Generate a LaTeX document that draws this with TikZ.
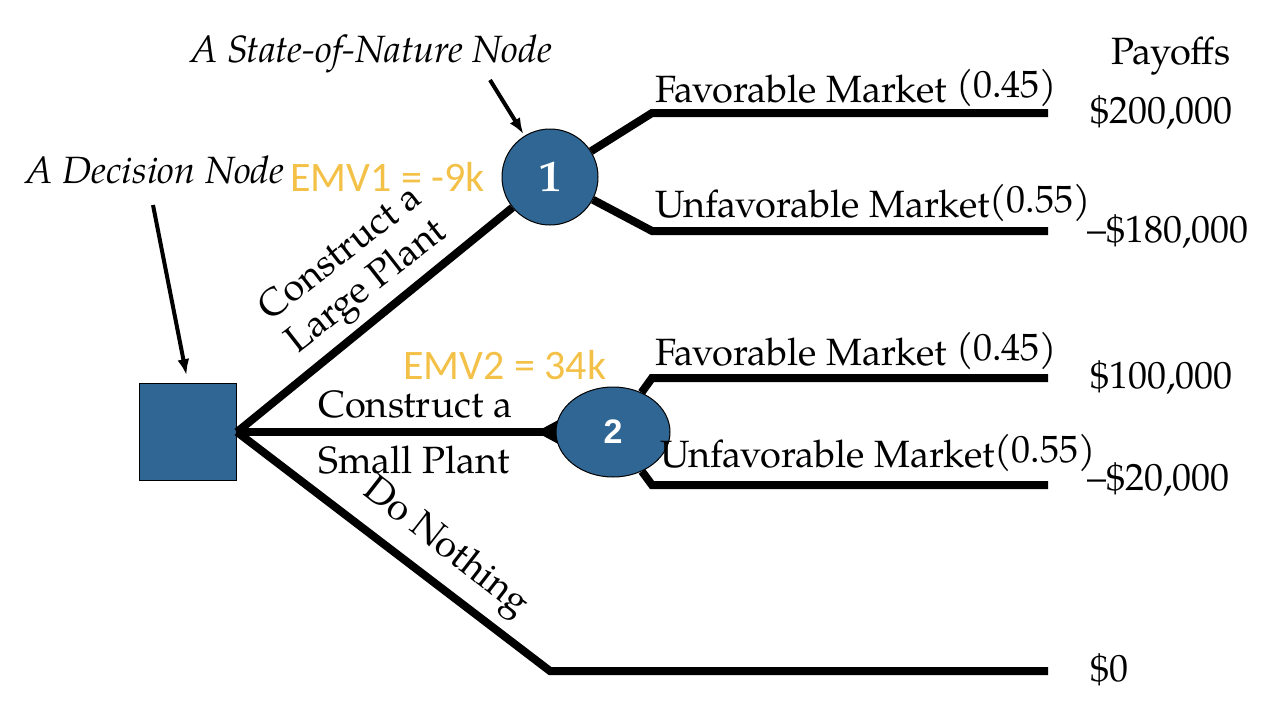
\documentclass[tikz,border=0pt]{standalone}
\usepackage{fontspec}
\setmainfont{TeX Gyre Pagella}
\newfontfamily\emvfont{Carlito}
\newfontfamily\twofont{Liberation Sans}
\usetikzlibrary{shapes.geometric,arrows.meta}
\definecolor{nodeblue}{RGB}{47,102,147}
\definecolor{emvgold}{RGB}{244,193,72}
\tikzset{
  branch/.style={line width=8pt, line join=miter},
  pointer/.style={line width=4pt, -{Latex[length=16pt,width=12pt]}},
  lbl/.style={inner sep=0pt, font=\fontsize{38}{42}\selectfont},
  ilbl/.style={inner sep=0pt, font=\fontsize{38}{42}\selectfont\itshape},
  emv/.style={inner sep=0pt, text=emvgold, font=\fontsize{42}{46}\selectfont\emvfont},
  chance/.style={fill=nodeblue, draw=black, line width=1pt, text=white},
  decision/.style={rectangle, fill=nodeblue, draw=black, line width=1pt, minimum size=97pt, inner sep=0pt}
}
\begin{document}
\begin{tikzpicture}[x=1pt,y=-1pt]
\useasboundingbox (0,0) rectangle (1276,720);
% flare where the small-plant branch meets node 2
\fill[black] (536,432) -- (562,418) -- (562,446) -- cycle;
% nodes
\node[decision] (dn) at (188,432) {};
\node[chance, circle, minimum size=96pt, inner sep=0pt, font=\fontsize{44}{48}\selectfont\bfseries] (c1) at (550,177) {1};
\node[chance, ellipse, minimum width=114pt, minimum height=90pt, inner sep=0pt, font=\fontsize{34}{38}\selectfont\twofont\bfseries] (c2) at (613,432) {2};
% bend and end coordinates
\coordinate (k1a) at (652,113); \coordinate (e1a) at (1048,113);
\coordinate (k1b) at (652,231); \coordinate (e1b) at (1048,231);
\coordinate (k2a) at (652,378); \coordinate (e2a) at (1048,378);
\coordinate (k2b) at (652,485); \coordinate (e2b) at (1048,485);
\coordinate (k0) at (550,671);  \coordinate (e0) at (1048,671);
% branches
\draw[branch] (dn.east) -- (c1);
\draw[branch] (dn.east) -- (c2);
\draw[branch] (dn.east) -- (k0) -- (e0);
\draw[branch] (c1) -- (k1a) -- (e1a);
\draw[branch] (c1) -- (k1b) -- (e1b);
\draw[branch] (c2) -- (k2a) -- (e2a);
\draw[branch] (c2) -- (k2b) -- (e2b);
% labels on branches
\node[lbl, anchor=base west] (fm1) at (655,102) {Favorable Market \raisebox{5pt}{(0.45)}};
\node[lbl, anchor=base west] (um1) at (655,217) {Unfavorable Market\raisebox{5pt}{(0.55)}};
\node[lbl, anchor=base west] (fm2) at (655,365) {Favorable Market \raisebox{5pt}{(0.45)}};
\node[lbl, anchor=base west] (um2) at (660,467) {Unfavorable Market\raisebox{5pt}{(0.55)}};
% payoffs
\node[lbl, anchor=base] (pay) at (1171,64) {Payoffs};
\node[lbl, anchor=base west] (p1) at (1090,123) {\$200,000};
\node[lbl, anchor=base west] (p2) at (1087,242) {--\$180,000};
\node[lbl, anchor=base west] (p3) at (1090,388) {\$100,000};
\node[lbl, anchor=base west] (p4) at (1087,490) {--\$20,000};
\node[lbl, anchor=base west] (p5) at (1090,681) {\$0};
% alternatives
\node[lbl, align=center, rotate=38] (large) at (355,272) {Construct a\\Large Plant};
\node[lbl, anchor=base west] (small1) at (318,417) {Construct a};
\node[lbl, anchor=base west] (small2) at (318,473) {Small Plant};
\node[lbl, rotate=-38] (nothing) at (445,548) {Do Nothing};
% EMV
\node[emv, anchor=base west] (emv1) at (290,191) {EMV1 = -9k};
\node[emv, anchor=base west] (emv2) at (403,379) {EMV2 = 34k};
% callouts
\node[ilbl, anchor=base west] (snlab) at (190,62) {A State-of-Nature Node};
\node[ilbl, anchor=base west] (dlab) at (25,183) {A Decision Node};
\coordinate (s1) at (490,80);
\coordinate (s2) at (153,205);
\draw[pointer, shorten >=2pt] (s1) -- (c1);
\draw[pointer, shorten >=8pt] (s2) -- (dn.north);
\end{tikzpicture}
\end{document}
